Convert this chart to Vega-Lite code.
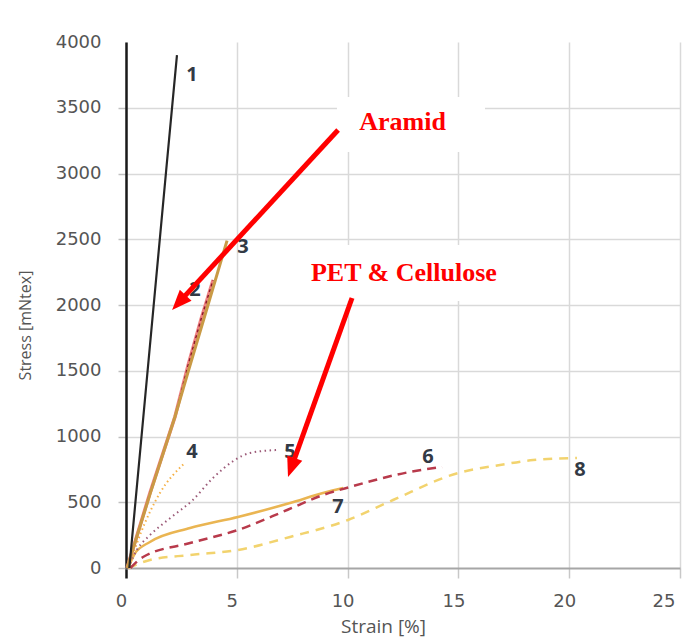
{
  "$schema": "https://vega.github.io/schema/vega-lite/v6.json",
  "autosize": "none",
  "width": 554,
  "height": 526,
  "padding": {"left": 126, "top": 42, "right": 9, "bottom": 72},
  "background": "white",
  "config": {"view": {"stroke": null}},
  "datasets": {
    "curves": [
      {"c": 1, "x": 0.15, "y": 0}, {"c": 1, "x": 0.7, "y": 1000}, {"c": 1, "x": 1.25, "y": 2000}, {"c": 1, "x": 1.8, "y": 3000}, {"c": 1, "x": 2.3, "y": 3900},
      {"c": 2, "x": 0.05, "y": 0}, {"c": 2, "x": 1.08, "y": 570}, {"c": 2, "x": 2.21, "y": 1150}, {"c": 2, "x": 2.8, "y": 1540}, {"c": 2, "x": 3.4, "y": 1900}, {"c": 2, "x": 3.93, "y": 2190},
      {"c": 3, "x": 0.05, "y": 0}, {"c": 3, "x": 1.08, "y": 560}, {"c": 3, "x": 2.21, "y": 1150}, {"c": 3, "x": 2.8, "y": 1490}, {"c": 3, "x": 3.7, "y": 2000}, {"c": 3, "x": 4.56, "y": 2490},
      {"c": 4, "x": 0.1, "y": 0}, {"c": 4, "x": 0.7, "y": 280}, {"c": 4, "x": 1.53, "y": 570}, {"c": 4, "x": 2.6, "y": 790},
      {"c": 5, "x": 0.1, "y": 0}, {"c": 5, "x": 0.5, "y": 140}, {"c": 5, "x": 1.08, "y": 250}, {"c": 5, "x": 2.0, "y": 380}, {"c": 5, "x": 3.0, "y": 515}, {"c": 5, "x": 3.9, "y": 680}, {"c": 5, "x": 4.9, "y": 820}, {"c": 5, "x": 5.6, "y": 875}, {"c": 5, "x": 6.8, "y": 897},
      {"c": 6, "x": 0.2, "y": 0}, {"c": 6, "x": 0.77, "y": 84}, {"c": 6, "x": 2.89, "y": 190}, {"c": 6, "x": 5.05, "y": 289}, {"c": 6, "x": 7.27, "y": 441}, {"c": 6, "x": 8.89, "y": 555}, {"c": 6, "x": 10.1, "y": 616}, {"c": 6, "x": 12.8, "y": 730}, {"c": 6, "x": 14.26, "y": 768},
      {"c": 7, "x": 0.1, "y": 0}, {"c": 7, "x": 0.4, "y": 110}, {"c": 7, "x": 1.08, "y": 198}, {"c": 7, "x": 2.89, "y": 304}, {"c": 7, "x": 5.05, "y": 388}, {"c": 7, "x": 7.4, "y": 494}, {"c": 7, "x": 8.89, "y": 570}, {"c": 7, "x": 9.8, "y": 608},
      {"c": 8, "x": 0.1, "y": 0}, {"c": 8, "x": 1.08, "y": 61}, {"c": 8, "x": 2.89, "y": 99}, {"c": 8, "x": 5.05, "y": 137}, {"c": 8, "x": 7.4, "y": 236}, {"c": 8, "x": 10.02, "y": 365}, {"c": 8, "x": 12.05, "y": 517}, {"c": 8, "x": 14.98, "y": 722}, {"c": 8, "x": 16.88, "y": 783}, {"c": 8, "x": 18.37, "y": 821}, {"c": 8, "x": 20.35, "y": 837}
    ],
    "labels": [
      {"t": "1", "x": 2.98, "y": 3749},
      {"t": "2", "x": 3.11, "y": 2114},
      {"t": "3", "x": 5.28, "y": 2441},
      {"t": "4", "x": 2.98, "y": 882},
      {"t": "5", "x": 7.4, "y": 882},
      {"t": "6", "x": 13.63, "y": 844},
      {"t": "7", "x": 9.57, "y": 464},
      {"t": "8", "x": 20.49, "y": 745}
    ],
    "boxes": [
      {"x": 9.52, "x2": 16.2, "y": 3582, "y2": 3163},
      {"x": 7.85, "x2": 17.33, "y": 2456, "y2": 2030}
    ],
    "notes": [
      {"t": "Aramid", "x": 12.48, "y": 3331},
      {"t": "PET & Cellulose", "x": 12.54, "y": 2185}
    ],
    "arrows": [
      {"a": 1, "x": 9.57, "y": 3331, "x2": 2.38, "y2": 2018, "tx": 2.08, "ty": 1962},
      {"a": 2, "x": 10.2, "y": 2053, "x2": 7.46, "y2": 763, "tx": 7.31, "ty": 692}
    ]
  },
  "encoding": {
    "x": {
      "field": "x", "type": "quantitative",
      "scale": {"domain": [0, 25], "nice": false, "zero": false},
      "axis": {
        "title": "Strain [%]",
        "values": [0, 5, 10, 15, 20, 25],
        "format": "d",
        "grid": true, "gridColor": "#d9d9d9", "gridWidth": 1.5,
        "domainColor": "#a6a6a6", "domainWidth": 2,
        "tickColor": {"condition": {"test": "datum.value === 0", "value": "#1a1a1a"}, "value": "#c8c8c8"},
        "tickWidth": {"condition": {"test": "datum.value === 0", "value": 2.5}, "value": 1.5},
        "tickSize": 10,
        "labelFont": "DejaVu Sans", "labelFontSize": 18, "labelColor": "#555555",
        "labelPadding": 14, "labelOffset": -5, "labelOverlap": false, "labelFlush": false,
        "labelAlign": {"condition": {"test": "datum.value === 25", "value": "right"}, "value": "center"},
        "titleFont": "Open Sans", "titleFontSize": 19, "titleColor": "#555555", "titleFontWeight": "normal",
        "titleX": 257, "titleY": 64, "titleAlign": "center", "titleBaseline": "alphabetic"
      }
    },
    "y": {
      "field": "y", "type": "quantitative",
      "scale": {"domain": [0, 4000], "nice": false},
      "axis": {
        "title": "Stress [mNtex]",
        "values": [0, 500, 1000, 1500, 2000, 2500, 3000, 3500, 4000],
        "format": "d",
        "grid": true, "gridColor": "#d9d9d9", "gridWidth": 1.5,
        "gridOpacity": {"condition": {"test": "datum.value === 4000 || datum.value === 0", "value": 0}, "value": 1},
        "domainColor": "#1a1a1a", "domainWidth": 2.5,
        "tickColor": "#c0c0c0", "tickSize": 8, "tickWidth": 1.5,
        "tickOpacity": {"condition": {"test": "datum.value === 4000", "value": 0}, "value": 1},
        "labelFont": "DejaVu Sans", "labelFontSize": 18, "labelColor": "#555555", "labelPadding": 17, "labelOverlap": false,
        "titleFont": "Open Sans", "titleFontSize": 16, "titleColor": "#555555", "titleFontWeight": "normal",
        "titleAngle": -90, "titleX": -101, "titleY": 283, "titleAlign": "center", "titleBaseline": "middle"
      }
    }
  },
  "layer": [
    {
      "data": {"name": "boxes"},
      "mark": {"type": "rect", "fill": "white"},
      "encoding": {"x2": {"field": "x2"}, "y2": {"field": "y2"}}
    },
    {
      "data": {"name": "curves"}, "transform": [{"filter": "datum.c === 8"}],
      "mark": {"type": "line", "interpolate": "monotone", "color": "#f2d36e", "strokeWidth": 2.5, "strokeDash": [9, 7]}
    },
    {
      "data": {"name": "curves"}, "transform": [{"filter": "datum.c === 7"}],
      "mark": {"type": "line", "interpolate": "monotone", "color": "#eab552", "strokeWidth": 2.5}
    },
    {
      "data": {"name": "curves"}, "transform": [{"filter": "datum.c === 6"}],
      "mark": {"type": "line", "interpolate": "monotone", "color": "#b83a4b", "strokeWidth": 2.5, "strokeDash": [9, 6]}
    },
    {
      "data": {"name": "curves"}, "transform": [{"filter": "datum.c === 5"}],
      "mark": {"type": "line", "interpolate": "monotone", "color": "#9c5a78", "strokeWidth": 2, "strokeDash": [1.5, 3.5]}
    },
    {
      "data": {"name": "curves"}, "transform": [{"filter": "datum.c === 4"}],
      "mark": {"type": "line", "interpolate": "monotone", "color": "#f5b045", "strokeWidth": 2, "strokeDash": [1.5, 3]}
    },
    {
      "data": {"name": "curves"}, "transform": [{"filter": "datum.c === 2"}],
      "mark": {"type": "line", "interpolate": "linear", "color": "#ee8080", "strokeWidth": 3.5}
    },
    {
      "data": {"name": "curves"}, "transform": [{"filter": "datum.c === 2"}],
      "mark": {"type": "line", "interpolate": "linear", "color": "#8b1a2a", "strokeWidth": 1.5, "strokeDash": [3, 3]}
    },
    {
      "data": {"name": "curves"}, "transform": [{"filter": "datum.c === 3"}],
      "mark": {"type": "line", "interpolate": "linear", "color": "#c99a45", "strokeWidth": 3}
    },
    {
      "data": {"name": "curves"}, "transform": [{"filter": "datum.c === 1"}],
      "mark": {"type": "line", "interpolate": "linear", "color": "#262626", "strokeWidth": 2.2}
    },
    {
      "data": {"name": "labels"},
      "mark": {"type": "text", "font": "Open Sans", "fontSize": 20, "fontWeight": "bold", "color": "#333a45", "align": "center", "baseline": "middle"},
      "encoding": {"text": {"field": "t"}}
    },
    {
      "data": {"name": "notes"},
      "mark": {"type": "text", "font": "Liberation Serif", "fontSize": 26, "fontWeight": "bold", "color": "#ff0000", "align": "center", "baseline": "alphabetic"},
      "encoding": {"text": {"field": "t"}}
    },
    {
      "data": {"name": "arrows"},
      "mark": {"type": "rule", "color": "#ff0000", "strokeWidth": 5, "strokeCap": "butt"},
      "encoding": {"x2": {"field": "x2"}, "y2": {"field": "y2"}}
    },
    {
      "data": {"name": "arrows"}, "transform": [{"filter": "datum.a === 1"}],
      "mark": {"type": "point", "shape": "M0,0L-0.4,1L0.4,1Z", "filled": true, "color": "#ff0000", "opacity": 1, "size": 1600, "angle": 222.7},
      "encoding": {"x": {"field": "tx", "type": "quantitative"}, "y": {"field": "ty", "type": "quantitative"}}
    },
    {
      "data": {"name": "arrows"}, "transform": [{"filter": "datum.a === 2"}],
      "mark": {"type": "point", "shape": "M0,0L-0.4,1L0.4,1Z", "filled": true, "color": "#ff0000", "opacity": 1, "size": 1600, "angle": 199.7},
      "encoding": {"x": {"field": "tx", "type": "quantitative"}, "y": {"field": "ty", "type": "quantitative"}}
    }
  ]
}
